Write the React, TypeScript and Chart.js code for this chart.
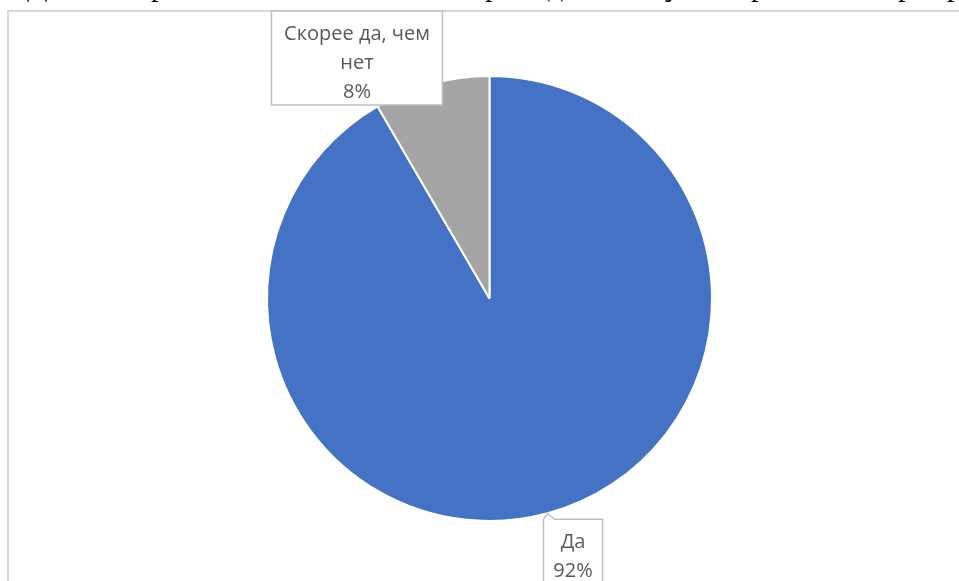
import React, { useEffect, useRef } from "react";
import { Chart, registerables } from "chart.js";

Chart.register(...registerables);

// ---- data ----
const categories: string[] = ["Да", "Скорее да, чем нет"];
const values: number[] = [91.6, 8.4];
const sliceColors: string[] = ["#4472C4", "#A5A5A5"];
const labelLines: string[][] = [["Да"], ["Скорее да, чем", "нет"]];

// page text above the chart (only its lower part is visible)
const headerWords: string[] = [
  "Довольны",
  "ли Вы",
  "прошлой",
  "сессией",
  "и",
  "работой",
  "для",
  "учеников",
  "в",
  "рамках",
  "регионального",
  "проекта",
];
const headerLefts: number[] = [27, 110, 135, 230, 400, 485, 548, 665, 732, 751, 898, 931];

const LABEL_FONT = '20px "Open Sans", "Noto Sans", sans-serif';
const LABEL_COLOR = "#595959";
const BOX_STROKE = "#bfbfbf";

const calloutPlugin = {
  id: "callouts",
  afterDatasetsDraw(chart: any) {
    const ctx: CanvasRenderingContext2D = chart.ctx;
    const meta = chart.getDatasetMeta(0);
    const total = values.reduce((a, b) => a + b, 0);
    meta.data.forEach((arc: any, i: number) => {
      const p = arc.getProps(["x", "y", "startAngle", "endAngle", "outerRadius"], true);
      const mid = (p.startAngle + p.endAngle) / 2;
      const ax = p.x + Math.cos(mid) * p.outerRadius;
      const ay = p.y + Math.sin(mid) * p.outerRadius;
      const lines = [...labelLines[i], Math.round((values[i] / total) * 100) + "%"];
      let left: number, top: number, w: number, h: number;
      const tail = i === 0;
      if (i === 0) {
        w = 59;
        h = 80;
        left = ax - 4;
        top = ay + 6;
      } else {
        w = 171;
        h = 94;
        left = ax - 74.5 - w / 2;
        top = ay - 25.7 - h / 2;
      }
      ctx.save();
      ctx.beginPath();
      ctx.moveTo(left, top);
      if (tail) {
        ctx.lineTo(ax, ay);
        ctx.lineTo(left + 11, top);
      }
      ctx.lineTo(left + w, top);
      ctx.lineTo(left + w, top + h);
      ctx.lineTo(left, top + h);
      ctx.closePath();
      ctx.fillStyle = "#ffffff";
      ctx.fill();
      ctx.lineWidth = 1.5;
      ctx.strokeStyle = BOX_STROKE;
      ctx.stroke();
      ctx.font = LABEL_FONT;
      ctx.fillStyle = LABEL_COLOR;
      ctx.textAlign = "center";
      ctx.textBaseline = "alphabetic";
      lines.forEach((t, k) => {
        ctx.fillText(t, left + w / 2, top + 28.5 + k * 29);
      });
      ctx.restore();
    });
  },
};

function PieChart() {
  const ref = useRef<HTMLCanvasElement | null>(null);
  useEffect(() => {
    if (!ref.current) return;
    const chart = new Chart(ref.current, {
      type: "pie",
      data: {
        labels: categories,
        datasets: [
          {
            data: values,
            backgroundColor: sliceColors,
            borderColor: "#ffffff",
            borderWidth: 2,
          },
        ],
      },
      options: {
        animation: false,
        responsive: false,
        maintainAspectRatio: false,
        radius: 222.5,
        layout: { padding: { left: 266, right: 246, top: 75, bottom: 59 } },
        plugins: {
          legend: { display: false },
          tooltip: { enabled: false },
        },
        events: [],
      },
      plugins: [calloutPlugin],
    } as any);
    return () => chart.destroy();
  }, []);
  return (
    <canvas
      ref={ref}
      width={959}
      height={581}
      style={{ position: "absolute", left: 0, top: 0, width: 959, height: 581 }}
    />
  );
}

export default function App() {
  return (
    <div
      style={{
        position: "fixed",
        left: 0,
        top: 0,
        width: "100vw",
        height: "100vh",
        overflow: "hidden",
        background: "#ffffff",
      }}
    >
      {headerWords.map((w, i) => (
        <span
          key={i}
          style={{
            position: "absolute",
            left: headerLefts[i],
            top: -29,
            fontFamily: '"Liberation Serif", "Times New Roman", serif',
            fontSize: 30,
            lineHeight: 1,
            whiteSpace: "nowrap",
            color: "#000",
          }}
        >
          {w}
        </span>
      ))}
      <div
        style={{
          position: "absolute",
          left: 7,
          top: 10,
          width: 2000,
          height: 2000,
          borderLeft: "2px solid #d9d9d9",
          borderTop: "2px solid #d9d9d9",
        }}
      />
      <PieChart />
    </div>
  );
}
